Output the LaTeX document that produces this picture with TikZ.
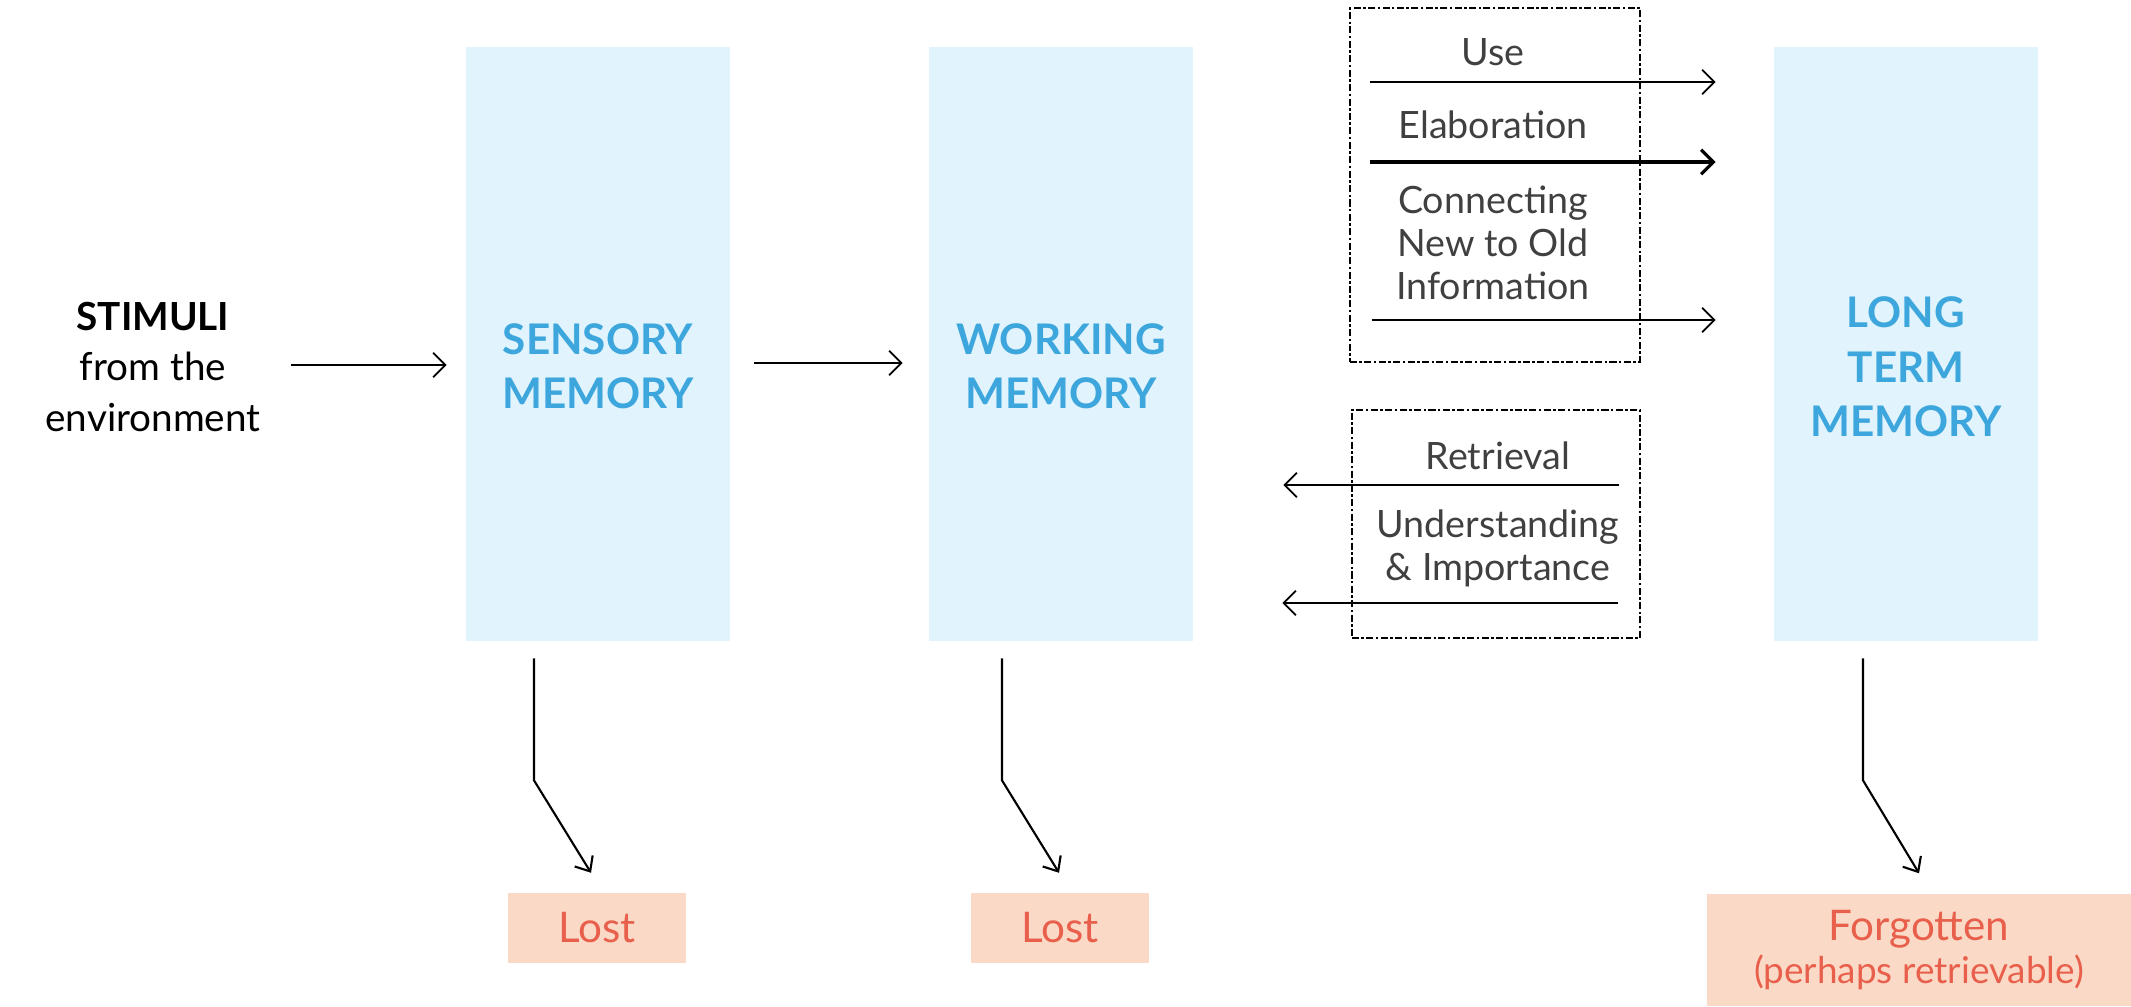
\documentclass[tikz,border=0pt]{standalone}
\usepackage{fontspec}
\setmainfont{Lato}
\usepackage{xcolor}
\usetikzlibrary{arrows.meta,positioning,calc}

\definecolor{memfill}{HTML}{E1F3FC}
\definecolor{memblue}{HTML}{3DA7DD}
\definecolor{lostfill}{HTML}{FBD9C7}
\definecolor{lostred}{HTML}{E8604B}
\definecolor{textgrey}{HTML}{404040}

\begin{document}
\begin{tikzpicture}[x=0.01cm, y=-0.01cm,
  memory/.style={rectangle, fill=memfill, minimum width=2.63cm, minimum height=5.93cm, inner sep=0pt},
  memlabel/.style={font=\fontsize{12}{15.5}\selectfont\bfseries, text=memblue, align=center},
  lostbox/.style={rectangle, fill=lostfill, minimum width=1.78cm, minimum height=0.69cm, inner sep=0pt, font=\fontsize{12}{14}\selectfont, text=lostred, align=center},
  process/.style={rectangle, draw=black, line width=0.6pt, dash pattern=on 2pt off 0.7pt on 0.7pt off 0.7pt, inner sep=0pt},
  proclabel/.style={font=\fontsize{10.7}{12.3}\selectfont, text=textgrey, align=center},
  flow/.style={-{Straight Barb[length=3.5pt,width=7pt]}, line width=0.5pt},
  drop/.style={-{Straight Barb[length=3.5pt,width=6pt]}, line width=0.6pt}
]
\useasboundingbox (0,0) rectangle (2131,1006);

\node[font=\fontsize{11}{14.4}\selectfont, align=center] (stimuli) at (153,367) {\textbf{STIMULI}\\from the\\environment};

\node[memory] (sensory) at (598,344) {};
\node[memory] (working) at (1061,344) {};
\node[memory] (ltm) at (1906,344) {};
\node[memlabel] at ([yshift=-0.22cm]sensory.center) {SENSORY\\MEMORY};
\node[memlabel] at ([yshift=-0.22cm]working.center) {WORKING\\MEMORY};
\node[memlabel] at ([yshift=-0.23cm]ltm.center) {LONG\\TERM\\MEMORY};

\node[lostbox] (lostA) at (597,928) {Lost};
\node[lostbox] (lostB) at (1060,928) {Lost};
\node[lostbox, minimum width=4.24cm, minimum height=1.12cm, font=\fontsize{12}{14}\selectfont] (forgot) at (1919,950) {Forgotten\\[-2pt]{\fontsize{10.5}{12}\selectfont(perhaps retrievable)}};

% Encoding into long term memory
\node[process, minimum width=2.90cm, minimum height=3.53cm] (encode) at (1495,185) {};
\node[proclabel] (use) at (1493,52) {Use};
\node[proclabel] (elab) at (1493,125) {Elaboration};
\node[proclabel] (connect) at (1493,243) {Connecting\\New to Old\\Information};

% Back to working memory
\node[process, minimum width=2.88cm, minimum height=2.28cm] (recall) at (1496,524) {};
\node[proclabel] (retr) at (1498,456) {Retrieval};
\node[proclabel] (underst) at (1498,548) {Understanding\\\& Importance};

% Flow
\draw[flow, shorten <=0.18cm, shorten >=0.19cm] (stimuli.east |- 0,365) -- (sensory.west |- 0,365);
\draw[flow, shorten <=0.24cm, shorten >=0.26cm] (sensory.east |- 0,363) -- (working.west |- 0,363);

\draw[flow, shorten <=0.21cm, shorten >=0.58cm] (encode.west |- 0,82) -- (ltm.west |- 0,82);
\draw[flow, line width=0.9pt, shorten <=0.21cm, shorten >=0.58cm] (encode.west |- 0,162) -- (ltm.west |- 0,162);
\draw[flow, shorten <=0.23cm, shorten >=0.58cm] (encode.west |- 0,320) -- (ltm.west |- 0,320);

\draw[flow, shorten <=0.22cm, shorten >=0.90cm] (recall.east |- 0,485) -- (working.east |- 0,485);
\draw[flow, shorten <=0.23cm, shorten >=0.89cm] (recall.east |- 0,603) -- (working.east |- 0,603);

% Decay
\draw[drop] ($(sensory.south)+(-64,17)$) -- ++(0,122) -- ($(lostA.north)+(-6,-20)$);
\draw[drop] ($(working.south)+(-59,17)$) -- ++(0,122) -- ($(lostB.north)+(-1,-20)$);
\draw[drop] ($(ltm.south)+(-43,17)$) -- ++(0,122) -- ($(forgot.north)+(0,-20)$);

\end{tikzpicture}
\end{document}
